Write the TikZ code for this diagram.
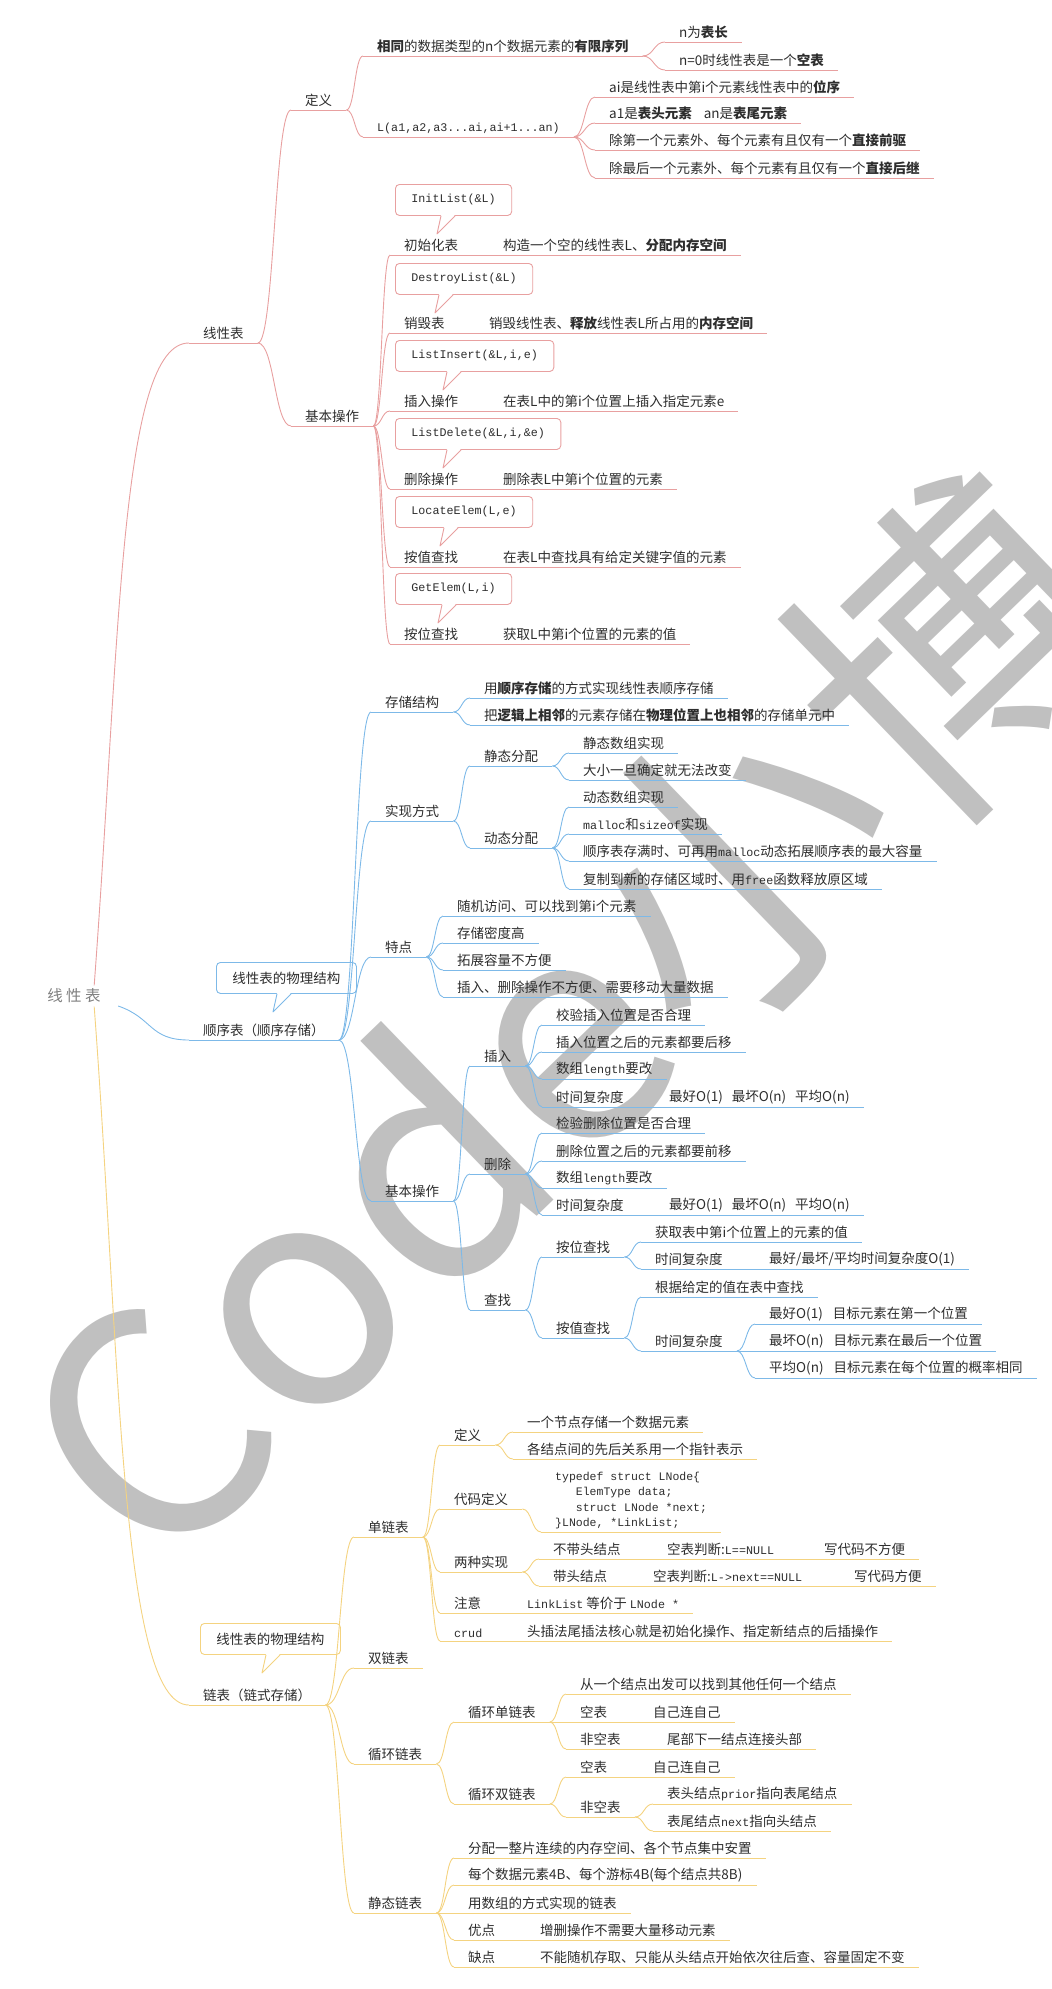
\documentclass[tikz,border=0pt]{standalone}
\usepackage{fontspec}
\setmainfont{Noto Sans CJK SC}
\setmonofont{Liberation Mono}
\usetikzlibrary{calc}

\definecolor{redline}{RGB}{232,160,160}
\definecolor{blueline}{RGB}{125,185,232}
\definecolor{yellowline}{RGB}{244,211,128}
\definecolor{ink}{RGB}{45,45,45}
\definecolor{wmgray}{RGB}{192,192,192}

\newcommand\code[1]{{\ttfamily\fontsize{11.7}{14}\selectfont #1}}
% 气泡下方的小尖角
\newcommand\tail[3]{%
  \fill[white] ([xshift=#2pt+4pt,yshift=1pt]#1.south west) -- ([xshift=#2pt,yshift=-18pt]#1.south west) -- ([xshift=#2pt+18pt,yshift=1pt]#1.south west) -- cycle;
  \draw[#3, line width=.9pt, line join=round] ([xshift=#2pt+4pt]#1.south west) -- ([xshift=#2pt,yshift=-18pt]#1.south west) -- ([xshift=#2pt+18pt]#1.south west);}

\begin{document}
\begin{tikzpicture}[x=1pt, y=-1pt,
    topic/.style={anchor=south west, inner xsep=14pt, inner ysep=3pt, text=ink, font=\fontsize{13.5}{16}\selectfont},
    rt/.style={topic, append after command={(\tikzlastnode.south west) edge[draw=redline, line width=.9pt] (\tikzlastnode.south east)}},
    bt/.style={topic, append after command={(\tikzlastnode.south west) edge[draw=blueline, line width=.9pt] (\tikzlastnode.south east)}},
    yt/.style={topic, append after command={(\tikzlastnode.south west) edge[draw=yellowline, line width=.9pt] (\tikzlastnode.south east)}},
    tipbox/.style={draw=#1, fill=white, rounded corners=4pt, anchor=north west, inner xsep=16pt, minimum height=31pt, line width=.9pt, text=ink, font=\fontsize{13.5}{16}\selectfont},
    codebox/.style={tipbox=redline, font=\ttfamily\fontsize{11.7}{14}\selectfont},
    redlink/.style={draw=redline, line width=.9pt},
    bluelink/.style={draw=blueline, line width=.9pt},
    yellowlink/.style={draw=yellowline, line width=.9pt},
    br/.style={to path={let \p1=(\tikztostart), \p2=(\tikztotarget), \n1={(\x1+\x2)/2} in .. controls (\n1,\y1) and (\n1,\y2) .. (\tikztotarget)}},
    rootnode/.style={text=gray, font=\fontsize{15.5}{18}\selectfont\addfontfeature{LetterSpace=22}},
    wmark/.style={anchor=base west, rotate=44, inner sep=0pt, text=wmgray, font=\fontsize{312}{312}\selectfont}
  ]
  \useasboundingbox (0,0) rectangle (1052,1989);

  % 水印
  \begin{scope}
    \clip (0,0) rectangle (1052,1989);
    \node[wmark] (wm) at (156,1584) {Code小博};
  \end{scope}

  % 根
  \node[rootnode] (root) at (74,996) {线性表};

  % 线性表 - 定义
  \node[rt] (lin) at (189,343) {线性表};
  \node[rt] (def) at (291,110) {定义};
  \node[rt] (def-a) at (363,56) {\textbf{相同}的数据类型的n个数据元素的\textbf{有限序列}};
  \node[rt] (def-a1) at (665,42) {n为\textbf{表长}};
  \node[rt] (def-a2) at (665,70) {n=0时线性表是一个\textbf{空表}};
  \node[rt] (def-b) at (363,137) {\code{L(a1,a2,a3...ai,ai+1...an)}};
  \node[rt] (def-b1) at (595,97) {ai是线性表中第i个元素线性表中的\textbf{位序}};
  \node[rt] (def-b2) at (595,123) {a1是\textbf{表头元素}\hspace{12pt}an是\textbf{表尾元素}};
  \node[rt] (def-b3) at (595,150) {除第一个元素外、每个元素有且仅有一个\textbf{直接前驱}};
  \node[rt] (def-b4) at (595,178) {除最后一个元素外、每个元素有且仅有一个\textbf{直接后继}};

  % 线性表 - 基本操作
  \node[rt] (ops) at (291,426) {基本操作};
  \node[rt] (init) at (390,255) {初始化表};
  \node[rt] (init-d) at (489,255) {构造一个空的线性表L、\textbf{分配内存空间}};
  \node[rt] (dest) at (390,333) {销毁表};
  \node[rt] (dest-d) at (475,333) {销毁线性表、\textbf{释放}线性表L所占用的\textbf{内存空间}};
  \node[rt] (ins) at (390,411) {插入操作};
  \node[rt] (ins-d) at (489,411) {在表L中的第i个位置上插入指定元素e};
  \node[rt] (del) at (390,489) {删除操作};
  \node[rt] (del-d) at (489,489) {删除表L中第i个位置的元素};
  \node[rt] (loc) at (390,567) {按值查找};
  \node[rt] (loc-d) at (489,567) {在表L中查找具有给定关键字值的元素};
  \node[rt] (get) at (390,644) {按位查找};
  \node[rt] (get-d) at (489,644) {获取L中第i个位置的元素的值};

  \node[codebox] (init-c) at (395,184) {InitList(\&L)};
  \tail{init-c}{42}{redline}
  \node[codebox] (dest-c) at (395,263) {DestroyList(\&L)};
  \tail{dest-c}{40}{redline}
  \node[codebox] (ins-c) at (395,340) {ListInsert(\&L,i,e)};
  \tail{ins-c}{48}{redline}
  \node[codebox] (del-c) at (395,418) {ListDelete(\&L,i,\&e)};
  \tail{del-c}{48}{redline}
  \node[codebox] (loc-c) at (395,496) {LocateElem(L,e)};
  \tail{loc-c}{45}{redline}
  \node[codebox] (get-c) at (395,573) {GetElem(L,i)};
  \tail{get-c}{43}{redline}

  \draw[redlink] ([xshift=-10pt]root.north east) .. controls (120,640) and (120,343) .. (lin.south west);
  \draw[redlink] (lin.south east) to[br] (def.south west);
  \draw[redlink] (lin.south east) to[br] (ops.south west);
  \draw[redlink] (def.south east) to[br] (def-a.south west);
  \draw[redlink] (def.south east) to[br] (def-b.south west);
  \draw[redlink] (def-a.south east) to[br] (def-a1.south west);
  \draw[redlink] (def-a.south east) to[br] (def-a2.south west);
  \draw[redlink] (def-b.south east) to[br] (def-b1.south west);
  \draw[redlink] (def-b.south east) to[br] (def-b2.south west);
  \draw[redlink] (def-b.south east) to[br] (def-b3.south west);
  \draw[redlink] (def-b.south east) to[br] (def-b4.south west);
  \draw[redlink] (ops.south east) to[br] (init.south west);
  \draw[redlink] (ops.south east) to[br] (dest.south west);
  \draw[redlink] (ops.south east) to[br] (ins.south west);
  \draw[redlink] (ops.south east) to[br] (del.south west);
  \draw[redlink] (ops.south east) to[br] (loc.south west);
  \draw[redlink] (ops.south east) to[br] (get.south west);
  \draw[redlink] (init.south east) -- (init-d.south west);
  \draw[redlink] (dest.south east) -- (dest-d.south west);
  \draw[redlink] (ins.south east) -- (ins-d.south west);
  \draw[redlink] (del.south east) -- (del-d.south west);
  \draw[redlink] (loc.south east) -- (loc-d.south west);
  \draw[redlink] (get.south east) -- (get-d.south west);

  % 顺序表
  \node[bt] (seq) at (189,1040) {顺序表（顺序存储）};
  \node[tipbox=blueline] (seq-c) at (216,962) {线性表的物理结构};
  \tail{seq-c}{57}{blueline}
  \node[bt] (st) at (371,712) {存储结构};
  \node[bt] (st1) at (470,698) {用\textbf{顺序存储}的方式实现线性表顺序存储};
  \node[bt] (st2) at (470,725) {把\textbf{逻辑上相邻}的元素存储在\textbf{物理位置上也相邻}的存储单元中};
  \node[bt] (impl) at (371,821) {实现方式};
  \node[bt] (stat) at (470,766) {静态分配};
  \node[bt] (stat1) at (569,753) {静态数组实现};
  \node[bt] (stat2) at (569,780) {大小一旦确定就无法改变};
  \node[bt] (dyn) at (470,848) {动态分配};
  \node[bt] (dyn1) at (569,807) {动态数组实现};
  \node[bt] (dyn2) at (569,834) {\code{malloc}和\code{sizeof}实现};
  \node[bt] (dyn3) at (569,861) {顺序表存满时、可再用\code{malloc}动态拓展顺序表的最大容量};
  \node[bt] (dyn4) at (569,889) {复制到新的存储区域时、用\code{free}函数释放原区域};
  \node[bt] (feat) at (371,957) {特点};
  \node[bt] (feat1) at (443,916) {随机访问、可以找到第i个元素};
  \node[bt] (feat2) at (443,943) {存储密度高};
  \node[bt] (feat3) at (443,970) {拓展容量不方便};
  \node[bt] (feat4) at (443,997) {插入、删除操作不方便、需要移动大量数据};
  \node[bt] (bops) at (371,1201) {基本操作};
  \node[bt] (bins) at (470,1066) {插入};
  \node[bt] (bins1) at (542,1025) {校验插入位置是否合理};
  \node[bt] (bins2) at (542,1052) {插入位置之后的元素都要后移};
  \node[bt] (bins3) at (542,1079) {数组\code{length}要改};
  \node[bt] (bins4) at (542,1107) {时间复杂度};
  \node[bt] (bins4d) at (655,1107) {最好O(1)\hspace{9pt}最坏O(n)\hspace{9pt}平均O(n)};
  \node[bt] (bdel) at (470,1174) {删除};
  \node[bt] (bdel1) at (542,1133) {检验删除位置是否合理};
  \node[bt] (bdel2) at (542,1161) {删除位置之后的元素都要前移};
  \node[bt] (bdel3) at (542,1188) {数组\code{length}要改};
  \node[bt] (bdel4) at (542,1215) {时间复杂度};
  \node[bt] (bdel4d) at (655,1215) {最好O(1)\hspace{9pt}最坏O(n)\hspace{9pt}平均O(n)};
  \node[bt] (find) at (470,1310) {查找};
  \node[bt] (pos) at (542,1257) {按位查找};
  \node[bt] (pos1) at (641,1242) {获取表中第i个位置上的元素的值};
  \node[bt] (pos2) at (641,1269) {时间复杂度};
  \node[bt] (pos2d) at (755,1269) {最好/最坏/平均时间复杂度O(1)};
  \node[bt] (val) at (542,1338) {按值查找};
  \node[bt] (val1) at (641,1297) {根据给定的值在表中查找};
  \node[bt] (val2) at (641,1351) {时间复杂度};
  \node[bt] (val2a) at (755,1324) {最好O(1)\hspace{10pt}目标元素在第一个位置};
  \node[bt] (val2b) at (755,1351) {最坏O(n)\hspace{10pt}目标元素在最后一个位置};
  \node[bt] (val2c) at (755,1378) {平均O(n)\hspace{10pt}目标元素在每个位置的概率相同};

  \draw[bluelink] ([xshift=14pt,yshift=-10pt]root.east) .. controls +(35,12) and +(-40,0) .. (seq.south west);
  \draw[bluelink] (seq.south east) to[br] (st.south west);
  \draw[bluelink] (seq.south east) to[br] (impl.south west);
  \draw[bluelink] (seq.south east) to[br] (feat.south west);
  \draw[bluelink] (seq.south east) to[br] (bops.south west);
  \draw[bluelink] (st.south east) to[br] (st1.south west);
  \draw[bluelink] (st.south east) to[br] (st2.south west);
  \draw[bluelink] (impl.south east) to[br] (stat.south west);
  \draw[bluelink] (impl.south east) to[br] (dyn.south west);
  \draw[bluelink] (stat.south east) to[br] (stat1.south west);
  \draw[bluelink] (stat.south east) to[br] (stat2.south west);
  \draw[bluelink] (dyn.south east) to[br] (dyn1.south west);
  \draw[bluelink] (dyn.south east) to[br] (dyn2.south west);
  \draw[bluelink] (dyn.south east) to[br] (dyn3.south west);
  \draw[bluelink] (dyn.south east) to[br] (dyn4.south west);
  \draw[bluelink] (feat.south east) to[br] (feat1.south west);
  \draw[bluelink] (feat.south east) to[br] (feat2.south west);
  \draw[bluelink] (feat.south east) to[br] (feat3.south west);
  \draw[bluelink] (feat.south east) to[br] (feat4.south west);
  \draw[bluelink] (bops.south east) to[br] (bins.south west);
  \draw[bluelink] (bops.south east) to[br] (bdel.south west);
  \draw[bluelink] (bops.south east) to[br] (find.south west);
  \draw[bluelink] (bins.south east) to[br] (bins1.south west);
  \draw[bluelink] (bins.south east) to[br] (bins2.south west);
  \draw[bluelink] (bins.south east) to[br] (bins3.south west);
  \draw[bluelink] (bins.south east) to[br] (bins4.south west);
  \draw[bluelink] (bins4.south east) -- (bins4d.south west);
  \draw[bluelink] (bdel.south east) to[br] (bdel1.south west);
  \draw[bluelink] (bdel.south east) to[br] (bdel2.south west);
  \draw[bluelink] (bdel.south east) to[br] (bdel3.south west);
  \draw[bluelink] (bdel.south east) to[br] (bdel4.south west);
  \draw[bluelink] (bdel4.south east) -- (bdel4d.south west);
  \draw[bluelink] (find.south east) to[br] (pos.south west);
  \draw[bluelink] (find.south east) to[br] (val.south west);
  \draw[bluelink] (pos.south east) to[br] (pos1.south west);
  \draw[bluelink] (pos.south east) to[br] (pos2.south west);
  \draw[bluelink] (pos2.south east) -- (pos2d.south west);
  \draw[bluelink] (val.south east) to[br] (val1.south west);
  \draw[bluelink] (val.south east) to[br] (val2.south west);
  \draw[bluelink] (val2.south east) to[br] (val2a.south west);
  \draw[bluelink] (val2.south east) to[br] (val2b.south west);
  \draw[bluelink] (val2.south east) to[br] (val2c.south west);

  % 链表
  \node[yt] (lk) at (189,1705) {链表（链式存储）};
  \node[tipbox=yellowline] (lk-c) at (200,1623) {线性表的物理结构};
  \tail{lk-c}{62}{yellowline}
  \node[yt] (sl) at (354,1537) {单链表};
  \node[yt] (sdef) at (440,1445) {定义};
  \node[yt] (sdef1) at (513,1432) {一个节点存储一个数据元素};
  \node[yt] (sdef2) at (513,1459) {各结点间的先后关系用一个指针表示};
  \node[yt] (scode) at (440,1509) {代码定义};
  \node[yt, align=left, font=\ttfamily\fontsize{11.5}{15.3}\selectfont] (code) at (541,1532)
    {typedef struct LNode\{\\\hphantom{typ}ElemType data;\\\hphantom{typ}struct LNode *next;\\\}LNode, *LinkList;};
  \node[yt] (stwo) at (440,1572) {两种实现};
  \node[yt] (two1) at (539,1559) {不带头结点};
  \node[yt] (two1b) at (653,1559) {空表判断:\code{L==NULL}};
  \node[yt] (two1c) at (810,1559) {写代码不方便};
  \node[yt] (two2) at (539,1586) {带头结点};
  \node[yt] (two2b) at (639,1586) {空表判断:\code{L->next==NULL}};
  \node[yt] (two2c) at (840,1586) {写代码方便};
  \node[yt] (snote) at (440,1613) {注意};
  \node[yt] (snote-d) at (513,1613) {\code{LinkList} 等价于 \code{LNode *}};
  \node[yt] (scrud) at (440,1641) {\code{crud}};
  \node[yt] (scrud-d) at (513,1641) {头插法尾插法核心就是初始化操作、指定新结点的后插操作};
  \node[yt] (dl) at (354,1668) {双链表};
  \node[yt] (cl) at (354,1764) {循环链表};
  \node[yt] (csl) at (454,1722) {循环单链表};
  \node[yt] (csl1) at (566,1694) {从一个结点出发可以找到其他任何一个结点};
  \node[yt] (csl2) at (566,1722) {空表};
  \node[yt] (csl2d) at (639,1722) {自己连自己};
  \node[yt] (csl3) at (566,1749) {非空表};
  \node[yt] (csl3d) at (653,1749) {尾部下一结点连接头部};
  \node[yt] (cdl) at (454,1804) {循环双链表};
  \node[yt] (cdl1) at (566,1777) {空表};
  \node[yt] (cdl1d) at (639,1777) {自己连自己};
  \node[yt] (cdl2) at (566,1817) {非空表};
  \node[yt] (cdl2a) at (653,1804) {表头结点\code{prior}指向表尾结点};
  \node[yt] (cdl2b) at (653,1831) {表尾结点\code{next}指向头结点};
  \node[yt] (stl) at (354,1913) {静态链表};
  \node[yt] (stl1) at (454,1858) {分配一整片连续的内存空间、各个节点集中安置};
  \node[yt] (stl2) at (454,1885) {每个数据元素4B、每个游标4B(每个结点共8B)};
  \node[yt] (stl3) at (454,1913) {用数组的方式实现的链表};
  \node[yt] (stl4) at (454,1940) {优点};
  \node[yt] (stl4d) at (526,1940) {增删操作不需要大量移动元素};
  \node[yt] (stl5) at (454,1967) {缺点};
  \node[yt] (stl5d) at (526,1967) {不能随机存取、只能从头结点开始依次往后查、容量固定不变};

  \draw[yellowlink] ([xshift=-10pt]root.south east) .. controls (120,1350) and (120,1705) .. (lk.south west);
  \draw[yellowlink] (lk.south east) to[br] (sl.south west);
  \draw[yellowlink] (lk.south east) to[br] (dl.south west);
  \draw[yellowlink] (lk.south east) to[br] (cl.south west);
  \draw[yellowlink] (lk.south east) to[br] (stl.south west);
  \draw[yellowlink] (sl.south east) to[br] (sdef.south west);
  \draw[yellowlink] (sl.south east) to[br] (scode.south west);
  \draw[yellowlink] (sl.south east) to[br] (stwo.south west);
  \draw[yellowlink] (sl.south east) to[br] (snote.south west);
  \draw[yellowlink] (sl.south east) to[br] (scrud.south west);
  \draw[yellowlink] (sdef.south east) to[br] (sdef1.south west);
  \draw[yellowlink] (sdef.south east) to[br] (sdef2.south west);
  \draw[yellowlink] (scode.south east) to[br] (code.south west);
  \draw[yellowlink] (stwo.south east) to[br] (two1.south west);
  \draw[yellowlink] (stwo.south east) to[br] (two2.south west);
  \draw[yellowlink] (two1.south east) -- (two1b.south west);
  \draw[yellowlink] (two1b.south east) -- (two1c.south west);
  \draw[yellowlink] (two2.south east) -- (two2b.south west);
  \draw[yellowlink] (two2b.south east) -- (two2c.south west);
  \draw[yellowlink] (snote.south east) -- (snote-d.south west);
  \draw[yellowlink] (scrud.south east) -- (scrud-d.south west);
  \draw[yellowlink] (cl.south east) to[br] (csl.south west);
  \draw[yellowlink] (cl.south east) to[br] (cdl.south west);
  \draw[yellowlink] (csl.south east) to[br] (csl1.south west);
  \draw[yellowlink] (csl.south east) to[br] (csl2.south west);
  \draw[yellowlink] (csl.south east) to[br] (csl3.south west);
  \draw[yellowlink] (csl2.south east) -- (csl2d.south west);
  \draw[yellowlink] (csl3.south east) -- (csl3d.south west);
  \draw[yellowlink] (cdl.south east) to[br] (cdl1.south west);
  \draw[yellowlink] (cdl.south east) to[br] (cdl2.south west);
  \draw[yellowlink] (cdl1.south east) -- (cdl1d.south west);
  \draw[yellowlink] (cdl2.south east) to[br] (cdl2a.south west);
  \draw[yellowlink] (cdl2.south east) to[br] (cdl2b.south west);
  \draw[yellowlink] (stl.south east) to[br] (stl1.south west);
  \draw[yellowlink] (stl.south east) to[br] (stl2.south west);
  \draw[yellowlink] (stl.south east) to[br] (stl3.south west);
  \draw[yellowlink] (stl.south east) to[br] (stl4.south west);
  \draw[yellowlink] (stl.south east) to[br] (stl5.south west);
  \draw[yellowlink] (stl4.south east) -- (stl4d.south west);
  \draw[yellowlink] (stl5.south east) -- (stl5d.south west);
\end{tikzpicture}
\end{document}
